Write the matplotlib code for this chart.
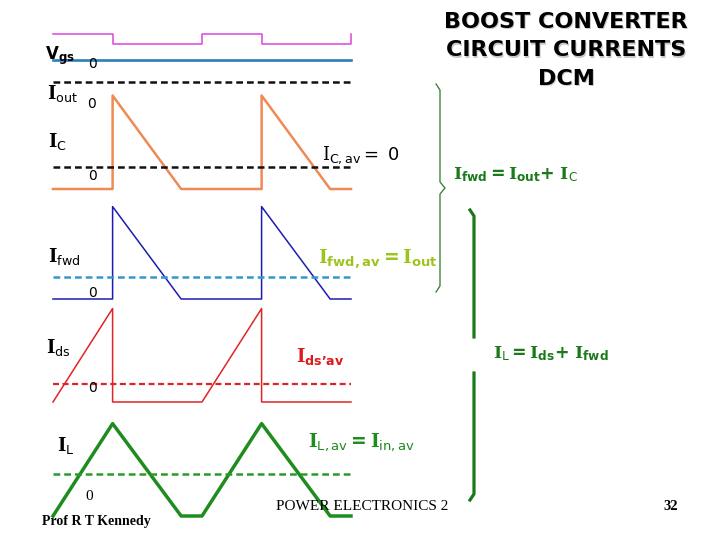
"""
Boost converter DCM current waveforms (slide recreation).

All waveforms share one current scale: Iout = 1 unit.
Time axis: two switching periods, duty 0.4, diode conducts until 0.86.
"""

import matplotlib
matplotlib.use('Agg')
import matplotlib.pyplot as plt

plt.rcParams['mathtext.fontset'] = 'custom'
plt.rcParams['mathtext.bf'] = 'DejaVu Serif:bold'
plt.rcParams['mathtext.sf'] = 'DejaVu Sans:bold'
plt.rcParams['mathtext.rm'] = 'DejaVu Sans'
plt.rcParams['mathtext.it'] = 'DejaVu Serif'

# ---- waveform data (t in switching periods) ----
vgs_t = [0, 0.4, 0.4, 1.0, 1.0, 1.4, 1.4, 2.0, 2.0]
vgs_v = [1, 1, 0, 0, 1, 1, 0, 0, 1]

iout_level = 1.0

ic_t = [0, 0.4, 0.4, 0.86, 1.4, 1.4, 1.86, 2.0]
ic_v = [-1.0, -1.0, 3.25, -1.0, -1.0, 3.25, -1.0, -1.0]

ifwd_t = [0, 0.4, 0.4, 0.86, 1.4, 1.4, 1.86, 2.0]
ifwd_v = [0, 0, 4.2, 0, 0, 4.2, 0, 0]
ifwd_avg = 1.0

ids_t = [0, 0.4, 0.4, 1.0, 1.4, 1.4, 2.0]
ids_v = [0, 4.25, 0, 0, 4.25, 0, 0]
ids_avg = 0.82

il_t = [0, 0.4, 0.86, 1.0, 1.4, 1.86, 2.0]
il_v = [0, 4.2, 0, 0, 4.2, 0, 0]
il_avg = 1.9

T_SPAN = (0, 2)

# ---- layout (pixels on a 720x540 slide) ----
W, H = 720, 540
X0, X1 = 53, 351
UNIT = 22

fig = plt.figure(figsize=(7.2, 5.4), dpi=100)
fig.patch.set_facecolor('white')


def trace_ax(zero_px, unit=UNIT):
    a = fig.add_axes([X0 / W, 0, (X1 - X0) / W, 1])
    a.set_xlim(*T_SPAN)
    a.set_ylim((zero_px - H) / unit, zero_px / unit)
    a.axis('off')
    a.patch.set_visible(False)
    return a


dash = dict(ls=(0, (2.7, 1.6)), clip_on=False)

# Vgs
a = trace_ax(44, 10)
a.plot(vgs_t, vgs_v, color='#dd44dd', lw=1.1, clip_on=False)

# Iout
a = trace_ax(82)
a.plot(T_SPAN, [iout_level, iout_level], color='#2a7fb8', lw=1.9, clip_on=False)
a.plot(T_SPAN, [0, 0], color='#111111', lw=1.8, **dash)

# IC
a = trace_ax(167)
a.plot(ic_t, ic_v, color='#f08a55', lw=1.8, clip_on=False)
a.plot(T_SPAN, [0, 0], color='#111111', lw=1.8, **dash)

# Ifwd
a = trace_ax(299)
a.plot(ifwd_t, ifwd_v, color='#1c1cb4', lw=1.1, clip_on=False)
a.plot(T_SPAN, [ifwd_avg, ifwd_avg], color='#3399cc', lw=1.8, **dash)

# Ids
a = trace_ax(402)
a.plot(ids_t, ids_v, color='#e02424', lw=1.1, clip_on=False)
a.plot(T_SPAN, [ids_avg, ids_avg], color='#e02424', lw=1.6, **dash)

# IL
a = trace_ax(516)
a.plot(il_t, il_v, color='#1e8c1e', lw=2.5, clip_on=False)
a.plot(T_SPAN, [il_avg, il_avg], color='#2a9a2a', lw=1.8, **dash)

# ---- overlay for text and braces ----
ax = fig.add_axes([0, 0, 1, 1])
ax.set_xlim(0, W)
ax.set_ylim(H, 0)
ax.axis('off')
ax.patch.set_visible(False)

lab = dict(fontsize=13, va='baseline', ha='left')
zero = dict(fontsize=10, va='baseline', ha='left', family='DejaVu Sans')

ax.text(45, 59, r'$\mathsf{V}_{\mathsf{gs}}$', fontsize=12, va='baseline')
ax.text(88, 68, '0', **zero)
ax.text(47, 99, r'$\mathbf{I}_{\mathrm{out}}$', **lab)
ax.text(87, 108, '0', **zero)
ax.text(48, 147, r'$\mathbf{I}_{\mathrm{C}}$', **lab)
ax.text(88, 180, '0', **zero)
ax.text(48, 262, r'$\mathbf{I}_{\mathrm{fwd}}$', **lab)
ax.text(88, 297, '0', **zero)
ax.text(46, 353, r'$\mathbf{I}_{\mathrm{ds}}$', **lab)
ax.text(88, 392, '0', **zero)
ax.text(57, 451, r'$\mathbf{I}_{\mathrm{L}}$', **lab)
ax.text(85, 500, '0', fontsize=11, va='baseline', family='Liberation Serif')

ax.text(322, 160, r'$\mathit{I}_{\mathrm{C,av}}\mathrm{=\ 0}$', fontsize=13,
        va='baseline')
ax.text(318, 263, r'$\mathbf{I}_{\mathsf{fwd,av}}\mathsf{=}\mathbf{I}_{\mathsf{out}}$',
        fontsize=13.5, va='baseline', color='#9cc41c')
ax.text(296, 362, r'$\mathbf{I}_{\mathsf{ds’av}}$', fontsize=13,
        va='baseline', color='#dd1a1a')
ax.text(308, 447, r'$\mathbf{I}_{\mathrm{L,av}}\mathsf{=}\mathbf{I}_{\mathrm{in,av}}$',
        fontsize=13.5, va='baseline', color='#1e8c1e')

ax.text(453, 179, r'$\mathbf{I}_{\mathsf{fwd}}\mathsf{=}\mathbf{I}_{\mathsf{out}}\mathsf{+}\ \mathbf{I}_{\mathrm{C}}$',
        fontsize=12.5, va='baseline', color='#1a7a1a')
ax.text(493, 358, r'$\mathbf{I}_{\mathrm{L}}\mathsf{=}\mathbf{I}_{\mathsf{ds}}\mathsf{+}\ \mathbf{I}_{\mathsf{fwd}}$',
        fontsize=12.5, va='baseline', color='#1a7a1a')

# braces
ax.plot([436, 440, 440, 445, 440, 440, 436],
        [84, 90, 182, 188, 194, 286, 292], color='#2a7a2a', lw=0.9)
ax.plot([470, 474, 474], [210, 216, 337], color='#1a7a1a', lw=2.3)
ax.plot([474, 474, 470], [373, 494, 500], color='#1a7a1a', lw=2.3)

# title with a soft shadow
title = ['BOOST CONVERTER', 'CIRCUIT CURRENTS', 'DCM']
for i, line in enumerate(title):
    y = 28 + i * 28.5
    ax.text(567, y + 1, line, fontsize=16, fontweight='bold', ha='center',
            va='baseline', color='#c8c8c8')
    ax.text(566, y, line, fontsize=16, fontweight='bold', ha='center',
            va='baseline', color='black')

ax.text(276, 510, 'POWER ELECTRONICS 2', fontsize=11, family='Liberation Serif',
        va='baseline')
ax.text(42, 525, 'Prof R T Kennedy', fontsize=10, family='Liberation Serif',
        fontweight='bold', va='baseline')
ax.text(663, 510, '32', fontsize=10.5, family='Liberation Serif',
        fontweight='bold', va='baseline')

fig.savefig('out.png', dpi=100, facecolor='white')
